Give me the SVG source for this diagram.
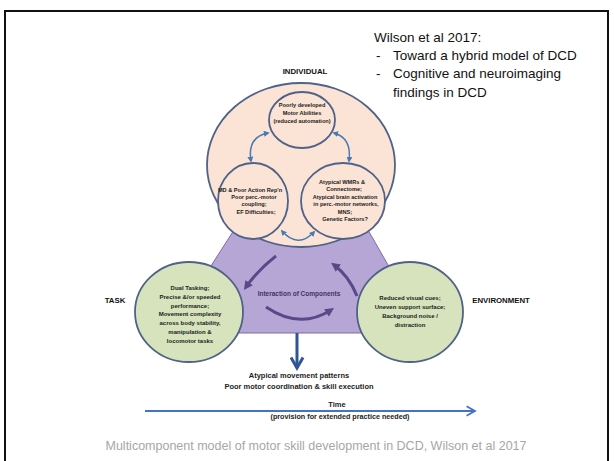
<svg xmlns="http://www.w3.org/2000/svg" width="614" height="461" viewBox="0 0 614 461">
<style>
.t{font-family:"Liberation Sans",Arial,sans-serif;font-weight:bold;fill:#222;text-anchor:middle}
.s{font-size:5.6px}
.g{font-size:6px}
.lab{font-size:7.8px;fill:#111}
.note{font-family:"Liberation Sans",Arial,sans-serif;font-size:13.5px;fill:#111}
.peach{fill:#fbe4d5;stroke:#4f6288;stroke-width:1.8}
.green{fill:#d6e3bc;stroke:#4f6288;stroke-width:1.8}
.blue{fill:none;stroke:#4a78b4;stroke-width:1.5}
.purp{fill:none;stroke:#5b4888;stroke-width:3}
</style>
<defs>
<marker id="bh" viewBox="0 0 10 10" refX="7" refY="5" markerWidth="4" markerHeight="4" orient="auto-start-reverse"><path d="M0,0 L10,5 L0,10 z" fill="#4a78b4"/></marker>
<marker id="ph" viewBox="0 0 10 10" refX="6" refY="5" markerWidth="3" markerHeight="3" orient="auto"><path d="M0,0 L10,5 L0,10 z" fill="#5b4888"/></marker>
<marker id="ch" viewBox="0 0 10 10" refX="8" refY="5" markerWidth="5" markerHeight="5" orient="auto"><path d="M1,1 L8,5 L1,9" fill="none" stroke="#2f5597" stroke-width="2"/></marker>
<marker id="th" viewBox="0 0 10 10" refX="8" refY="5" markerWidth="6" markerHeight="6" orient="auto"><path d="M1,1 L8,5 L1,9" fill="none" stroke="#4472c4" stroke-width="1.5"/></marker>
</defs>
<rect x="0" y="0" width="614" height="461" fill="#fff"/>
<rect x="5" y="11" width="603" height="470" fill="none" stroke="#111" stroke-width="2"/>

<text class="note" x="374" y="42">Wilson et al 2017:</text>
<text class="note" x="376" y="60">-</text>
<text class="note" x="393" y="60">Toward a hybrid model of DCD</text>
<text class="note" x="376" y="78">-</text>
<text class="note" x="393" y="78">Cognitive and neuroimaging</text>
<text class="note" x="393" y="97">findings in DCD</text>

<g id="interaction">
<path d="M234,230 L168,333 L427,333 L368,230 Z" fill="#b5a6d6" stroke="#7e6aa6" stroke-width="1"/>
<text class="t" x="299" y="296" style="font-size:6.5px;fill:#3f3560">Interaction of Components</text>
</g>

<g id="individual">
<ellipse class="peach" cx="301" cy="165" rx="94" ry="82"/>
<text class="t lab" x="305" y="74">INDIVIDUAL</text>
</g>

<g id="motor-abilities">
<ellipse class="peach" cx="302" cy="120" rx="33" ry="28"/>
<text class="t s" x="302" y="107">Poorly developed</text>
<text class="t s" x="302" y="115">Motor Abilities</text>
<text class="t s" x="302" y="123">(reduced automation)</text>
</g>

<g id="cognitive">
<ellipse class="peach" cx="253" cy="201" rx="35" ry="38"/>
<text class="t s" x="250" y="192">MD &amp; Poor Action Rep'n</text>
<text class="t s" x="254" y="199">Poor perc.-motor</text>
<text class="t s" x="254" y="206">coupling;</text>
<text class="t s" x="256" y="214">EF Difficulties;</text>
</g>

<g id="neural">
<ellipse class="peach" cx="343" cy="201" rx="42" ry="38"/>
<text class="t s" x="342" y="184">Atypical WMRs &amp;</text>
<text class="t s" x="344" y="191">Connectome;</text>
<text class="t s" x="345" y="199">Atypical brain activation</text>
<text class="t s" x="346" y="206">in perc.-motor networks,</text>
<text class="t s" x="345" y="214">MNS;</text>
<text class="t s" x="345" y="221">Genetic Factors?</text>
</g>

<g id="task">
<ellipse class="green" cx="189" cy="312" rx="54" ry="50"/>
<text class="t g" x="190" y="290">Dual Tasking;</text>
<text class="t g" x="190" y="299">Precise &amp;/or speeded</text>
<text class="t g" x="190" y="308">performance;</text>
<text class="t g" x="190" y="316">Movement complexity</text>
<text class="t g" x="190" y="325">across body stability,</text>
<text class="t g" x="190" y="334">manipulation &amp;</text>
<text class="t g" x="190" y="343">locomotor tasks</text>
<text class="t lab" x="115" y="303">TASK</text>
</g>

<g id="environment">
<ellipse class="green" cx="410" cy="312" rx="53" ry="50"/>
<text class="t g" x="410" y="300">Reduced visual cues;</text>
<text class="t g" x="410" y="309">Uneven support surface;</text>
<text class="t g" x="410" y="318">Background noise /</text>
<text class="t g" x="410" y="327">distraction</text>
<text class="t lab" x="501" y="303">ENVIRONMENT</text>
</g>

<g id="connectors">
<path class="blue" d="M251,161 Q247,137 268,133" marker-start="url(#bh)" marker-end="url(#bh)"/>
<path class="blue" d="M334,133 Q352,138 349,161" marker-start="url(#bh)" marker-end="url(#bh)"/>
<path class="blue" d="M282,231 Q298,249 314,232" marker-start="url(#bh)" marker-end="url(#bh)"/>
<path class="purp" d="M276,256 Q258,270 246,287" marker-end="url(#ph)"/>
<path class="purp" d="M357,296 Q349,276 334,265" marker-end="url(#ph)"/>
<path class="purp" d="M266,307 Q300,330 331,310" marker-end="url(#ph)"/>
<line x1="297" y1="333" x2="297" y2="368" stroke="#2f5597" stroke-width="3" marker-end="url(#ch)"/>
<line x1="145" y1="411" x2="475" y2="411" stroke="#4472c4" stroke-width="2" marker-end="url(#th)"/>
</g>

<g id="outcome">
<text class="t" x="299" y="378" style="font-size:7.5px">Atypical movement patterns</text>
<text class="t" x="299" y="389" style="font-size:7.5px">Poor motor coordination &amp; skill execution</text>
</g>
<g id="time">
<text class="t" x="337" y="407" style="font-size:7.5px">Time</text>
<text class="t" x="340" y="419" style="font-size:7.2px">(provision for extended practice needed)</text>
</g>
<text x="316" y="450" style="font-family:'Liberation Sans',Arial,sans-serif;font-size:12.5px;fill:#a6a6a6;text-anchor:middle">Multicomponent model of motor skill development in DCD, Wilson et al 2017</text>
</svg>
